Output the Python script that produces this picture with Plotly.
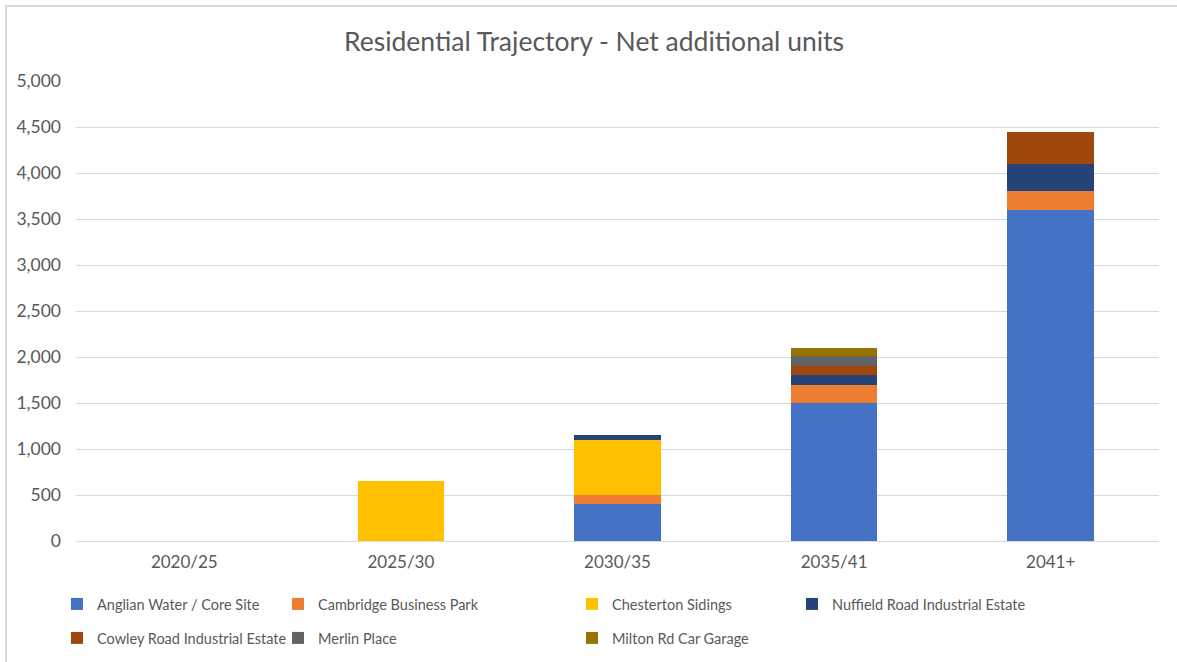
import plotly.graph_objects as go

categories = ["2020/25", "2025/30", "2030/35", "2035/41", "2041+"]

anglian_water = [0, 0, 400, 1500, 3600]
cambridge_business_park = [0, 0, 100, 200, 200]
chesterton_sidings = [0, 650, 600, 0, 0]
nuffield_road = [0, 0, 50, 100, 300]
cowley_road = [0, 0, 0, 100, 350]
merlin_place = [0, 0, 0, 110, 0]
milton_rd_garage = [0, 0, 0, 90, 0]

series_names = [
    "Anglian Water / Core Site",
    "Cambridge Business Park",
    "Chesterton Sidings",
    "Nuffield Road Industrial Estate",
    "Cowley Road Industrial Estate",
    "Merlin Place",
    "Milton Rd Car Garage",
]
series_values = [anglian_water, cambridge_business_park, chesterton_sidings,
                 nuffield_road, cowley_road, merlin_place, milton_rd_garage]
colors = ["#4472C4", "#ED7D31", "#FFC000", "#264478", "#9E480E", "#636363", "#997300"]

y_ticks = [0, 500, 1000, 1500, 2000, 2500, 3000, 3500, 4000, 4500, 5000]

FONT = "Lato, 'Open Sans', sans-serif"
TXT = "#595959"
W, H = 1177, 662
L, R, T, B = 76, 18, 81, 121
PW, PH = W - L - R, H - T - B

# legend item positions (pixel x of text start, pixel y of row centre)
legend_pos = [(97, 604), (318, 604), (612, 604), (832, 604),
              (97, 638), (318, 638), (612, 638)]

fig = go.Figure()
for i, (name, vals, col) in enumerate(zip(series_names, series_values, colors)):
    lname = "legend" if i == 0 else f"legend{i+1}"
    fig.add_trace(go.Bar(
        x=categories, y=vals, name=name,
        marker=dict(color=col, line=dict(width=0)),
        legend=lname,
    ))

layout_legends = {}
for i, (px, py) in enumerate(legend_pos):
    key = "legend" if i == 0 else f"legend{i+1}"
    layout_legends[key] = dict(
        xref="paper", yref="paper",
        x=(px - 40 - L) / PW, y=(H - B - py) / PH,
        xanchor="left", yanchor="middle",
        bgcolor="rgba(0,0,0,0)",
        font=dict(family=FONT, size=14.5, color=TXT),
    )

fig.update_layout(
    width=W, height=H,
    barmode="stack", bargap=0.6,
    paper_bgcolor="white", plot_bgcolor="white",
    margin=dict(l=L, r=R, t=T, b=B, autoexpand=False),
    title=dict(
        text="Residential Trajectory - Net additional units",
        x=594 / W, xanchor="center", xref="container",
        y=1 - 42 / H, yanchor="middle", yref="container",
        font=dict(family=FONT, size=26.5, color=TXT),
    ),
    font=dict(family=FONT, size=17, color=TXT),
    xaxis=dict(
        showgrid=False, showline=True, linecolor="#D9D9D9", linewidth=1,
        tickfont=dict(family=FONT, size=17, color=TXT), ticks="",
        ticklabelstandoff=6, automargin=False,
    ),
    yaxis=dict(
        range=[0, 5000], tickvals=y_ticks, tickformat=",",
        showgrid=True, gridcolor="#D9D9D9", gridwidth=1,
        zeroline=False, showline=False, ticks="",
        tickfont=dict(family=FONT, size=17.5, color=TXT),
        ticklabelstandoff=14, automargin=False,
    ),
    showlegend=True,
    **layout_legends,
)

# chart area border (top and left edges visible)
fig.add_shape(type="line", xref="paper", yref="paper",
              x0=(5 - L) / PW, x1=(1177 - L) / PW,
              y0=(H - B - 6) / PH, y1=(H - B - 6) / PH,
              line=dict(color="#D9D9D9", width=2))
fig.add_shape(type="line", xref="paper", yref="paper",
              x0=(6 - L) / PW, x1=(6 - L) / PW,
              y0=(H - B - 6) / PH, y1=(H - B - 662) / PH,
              line=dict(color="#D9D9D9", width=2))

fig.write_html(
    "out.html",
    config={"displayModeBar": False},
    post_script="document.body.style.margin='0';document.body.style.overflow='hidden';",
)
